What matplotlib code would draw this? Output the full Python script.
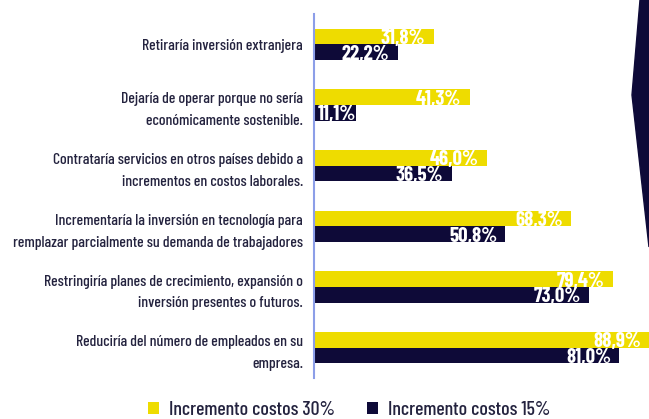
import matplotlib.pyplot as plt
from matplotlib.patches import Polygon

categories = [
    'Retiraría inversión extranjera',
    'Dejaría de operar porque no sería\neconómicamente sostenible.',
    'Contrataría servicios en otros países debido a\nincrementos en costos laborales.',
    'Incrementaría la inversión en tecnología para\nremplazar parcialmente su demanda de trabajadores',
    'Restringiría planes de crecimiento, expansión o\ninversión presentes o futuros.',
    'Reduciría del número de empleados en su\nempresa.',
]
costos_30 = [31.8, 41.3, 46.0, 68.3, 79.4, 88.9]
costos_15 = [22.2, 11.1, 36.5, 50.8, 73.0, 81.0]
series_names = ['Incremento costos 30%', 'Incremento costos 15%']

yellow = '#EEDC00'
navy = '#0E0A38'
text_col = '#24233F'

plt.rcParams['font.family'] = ['Barlow Condensed', 'Roboto Condensed', 'DejaVu Sans']

fig = plt.figure(figsize=(6.49, 4.19), dpi=100)
ax = fig.add_axes([314 / 649, 41 / 419, 335 / 649, 364 / 419])

# decorative dark shape on the right edge
fig.patches.append(Polygon([(640 / 649, 1), (632 / 649, 1 - 95 / 419), (649 / 649, 1 - 247 / 419), (1, 1)],
                           closed=True, transform=fig.transFigure, color=navy, zorder=0))

y = list(range(len(categories)))
h = 0.26
b30 = ax.barh([v - h / 2 for v in y], costos_30, height=h, color=yellow, label=series_names[0])
b15 = ax.barh([v + h / 2 for v in y], costos_15, height=h, color=navy, label=series_names[1])

for bars, vals in [(b30, costos_30), (b15, costos_15)]:
    for bar, v in zip(bars, vals):
        dx = -6 if v > 15 else 0  # short bar: label sits right at the end
        ax.annotate(f'{v:.1f}%'.replace('.', ','),
                    (bar.get_width(), bar.get_y() + bar.get_height() / 2),
                    xytext=(dx, -1.5), textcoords='offset points',
                    ha='right', va='center', color='white', fontsize=15, fontweight='bold')

ax.set_xlim(0, 88.9)
ax.set_ylim(5.5, -0.5)
ax.set_yticks(y)
ax.set_yticklabels(categories, fontsize=11.3, fontweight='medium', color=text_col, linespacing=1.72)
ax.tick_params(axis='y', length=0, pad=8)
ax.set_xticks([])
for s in ['top', 'right', 'bottom']:
    ax.spines[s].set_visible(False)
ax.spines['left'].set_color('#8C9EE8')
ax.spines['left'].set_linewidth(1.5)
ax.patch.set_alpha(0)

leg = fig.legend(handles=[b30, b15], loc='center', bbox_to_anchor=(349 / 649, 1 - 410 / 419),
                 ncol=2, frameon=False, handlelength=0.55, handleheight=0.55,
                 handletextpad=0.5, columnspacing=1.6, prop={'weight': 'medium', 'size': 14.3})
for t in leg.get_texts():
    t.set_color(text_col)

plt.savefig('out.png', dpi=100)
